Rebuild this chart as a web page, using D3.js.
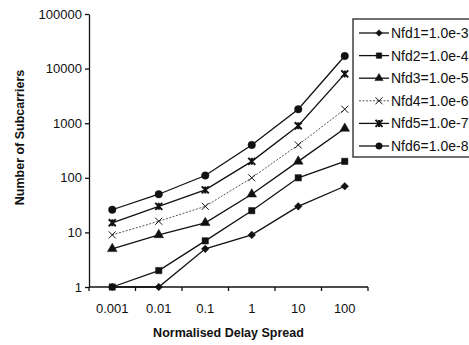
<!DOCTYPE html>
<html>
<head>
<meta charset="utf-8">
<script src="https://cdn.jsdelivr.net/npm/d3@7"></script>
<style>
body{margin:0;background:#fff;}
svg{font-family:Arial,"Liberation Sans",sans-serif;}
</style>
</head>
<body>
<div id="chart"></div>
<script>
var categories = ["0.001","0.01","0.1","1","10","100"];
var nfd1 = [1,1,5,9,30,70];
var nfd2 = [1,2,7,25,100,200];
var nfd3 = [5,9,15,50,200,800];
var nfd4 = [9,16,30,100,400,1800];
var nfd5 = [15,30,60,200,900,8000];
var nfd6 = [26,50,110,400,1800,17000];
var seriesNames = ["Nfd1=1.0e-3","Nfd2=1.0e-4","Nfd3=1.0e-5","Nfd4=1.0e-6","Nfd5=1.0e-7","Nfd6=1.0e-8"];
var yTicks = [1,10,100,1000,10000,100000];

var series = [
  {name:seriesNames[0], values:nfd1, marker:"diamond"},
  {name:seriesNames[1], values:nfd2, marker:"square"},
  {name:seriesNames[2], values:nfd3, marker:"triangle"},
  {name:seriesNames[3], values:nfd4, marker:"x", dashed:true},
  {name:seriesNames[4], values:nfd5, marker:"star"},
  {name:seriesNames[5], values:nfd6, marker:"circle"}
];

var svgWidth = 469, svgHeight = 345;
var margin = {top:14, left:89, right:101, bottom:58};
var width = svgWidth - margin.left - margin.right;
var height = svgHeight - margin.top - margin.bottom;

var svg = d3.select("#chart").append("svg")
  .attr("width", svgWidth).attr("height", svgHeight);

var g = svg.append("g").attr("transform", `translate(${margin.left},${margin.top})`);

var x = d3.scaleBand().domain(categories).range([0, width]).padding(0);
var y = d3.scaleLog().domain([1,100000]).range([height, 0]);

// y axis
var yAxis = d3.axisLeft(y).tickValues(yTicks).tickFormat(d3.format("d")).tickSize(4).tickSizeOuter(0);
var yg = g.append("g").call(yAxis);
yg.selectAll("text").attr("font-size","13px").attr("fill","#111").attr("x",-7);
yg.selectAll("line,path").attr("stroke","#111").attr("stroke-width",1.3);

// x axis, ticks between categories
var xg = g.append("g").attr("transform", `translate(0,${height})`);
xg.append("line").attr("x1",0).attr("x2",width).attr("stroke","#111").attr("stroke-width",1.3);
var bounds = categories.map(c => x(c)).concat([width]);
xg.selectAll(".xt").data(bounds).enter().append("line")
  .attr("x1", d=>d).attr("x2", d=>d).attr("y1",0).attr("y2",4)
  .attr("stroke","#111").attr("stroke-width",1.3);
xg.selectAll(".xl").data(categories).enter().append("text")
  .attr("x", d=>x(d)+x.bandwidth()/2).attr("y",26)
  .attr("text-anchor","middle").attr("font-size","13px").attr("fill","#111")
  .text(d=>d);

// titles
g.append("text").attr("x", width/2).attr("y", height+50)
  .attr("text-anchor","middle").attr("font-size","12.5px").attr("font-weight","bold")
  .attr("fill","#111").text("Normalised Delay Spread");
g.append("text").attr("transform","rotate(-90)")
  .attr("x", -height/2+13).attr("y", -65)
  .attr("text-anchor","middle").attr("font-size","12.5px").attr("font-weight","bold")
  .attr("fill","#111").text("Number of Subcarriers");

function markerPath(type, s){
  var r = Math.sqrt(s)/2;
  if (type=="diamond") return `M0,${-r*1.2}L${r*1.2},0L0,${r*1.2}L${-r*1.2},0Z`;
  if (type=="square") return d3.symbol().type(d3.symbolSquare).size(s)();
  if (type=="triangle") return d3.symbol().type(d3.symbolTriangle).size(s)();
  if (type=="circle") return d3.symbol().type(d3.symbolCircle).size(s*1.1)();
  r = 3.5;
  if (type=="x") return `M${-r},${-r}L${r},${r}M${-r},${r}L${r},${-r}`;
  return `M${-r},${-r}L${r},${r}M${-r},${r}L${r},${-r}M0,${-r}L0,${r}`;
}

var line = d3.line().x((d,i)=>x(categories[i])+x.bandwidth()/2).y(d=>y(d));

function drawMarker(sel, s, size){
  sel.attr("d", markerPath(s.marker, size))
    .attr("fill", (s.marker=="x"||s.marker=="star") ? "none" : "#111")
    .attr("stroke", "#111")
    .attr("stroke-width", s.marker=="star" ? 2 : (s.marker=="x" ? 1 : 0.5));
}

series.forEach(function(s){
  g.append("path").datum(s.values).attr("d", line)
    .attr("fill","none")
    .attr("stroke", s.dashed ? "#555" : "#111")
    .attr("stroke-width", s.dashed ? 1 : 1.3)
    .attr("stroke-dasharray", s.dashed ? "2,1.5" : null);
  g.selectAll(null).data(s.values).enter().append("path")
    .attr("transform",(d,i)=>`translate(${x(categories[i])+x.bandwidth()/2},${y(d)})`)
    .call(drawMarker, s, 40);
});

// legend
var lg = svg.append("g").attr("transform","translate(353,19)");
lg.append("rect").attr("x",0).attr("y",0).attr("width",140).attr("height",138)
  .attr("fill","#fff").attr("stroke","#111").attr("stroke-width",1.2);
series.forEach(function(s,i){
  var yy = 14 + i*22.6;
  lg.append("line").attr("x1",6).attr("x2",36).attr("y1",yy).attr("y2",yy)
    .attr("stroke", s.dashed ? "#555" : "#111")
    .attr("stroke-width", s.dashed ? 1 : 1.3)
    .attr("stroke-dasharray", s.dashed ? "2,1.5" : null);
  lg.append("path").attr("transform",`translate(26,${yy})`)
    .call(drawMarker, s, 30);
  lg.append("text").attr("x",38).attr("y",yy+5)
    .attr("font-size","14px").attr("fill","#111").text(s.name);
});
</script>
</body>
</html>
